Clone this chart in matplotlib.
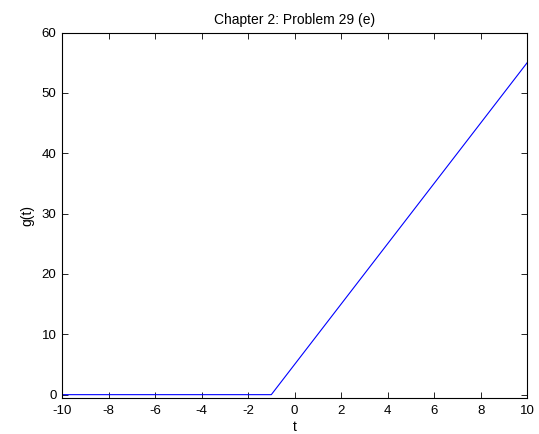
import matplotlib
matplotlib.use("Agg")
import matplotlib.pyplot as plt

t = [-10, -1, 10]
g = [0, 0, 55]
xticks = [-10, -8, -6, -4, -2, 0, 2, 4, 6, 8, 10]
yticks = [0, 10, 20, 30, 40, 50, 60]

plt.rcParams['font.family'] = ['Liberation Sans', 'DejaVu Sans']
plt.rcParams['axes.unicode_minus'] = False
fig = plt.figure(figsize=(5.39, 4.34), dpi=100)
ax = fig.add_axes([0.115, 0.083, 0.863, 0.842])
ax.plot(t, g, color='#0000ff', linewidth=0.8)
ax.set_xlim(-10, 10)
ax.set_ylim(-0.55, 60)
ax.set_xticks(xticks)
ax.set_yticks(yticks)
ax.tick_params(direction='in', top=True, right=True, labelsize=9.5, length=4, width=0.6, pad=4)
ax.tick_params(axis='x', pad=5)
for s in ax.spines.values():
    s.set_linewidth(0.8)
ax.set_xlabel('t', fontsize=10, labelpad=2)
ax.set_ylabel('g(t)', fontsize=10, labelpad=5)
ax.set_title('Chapter 2: Problem 29 (e)', fontsize=10, pad=6)
fig.savefig('out.png', dpi=100)
